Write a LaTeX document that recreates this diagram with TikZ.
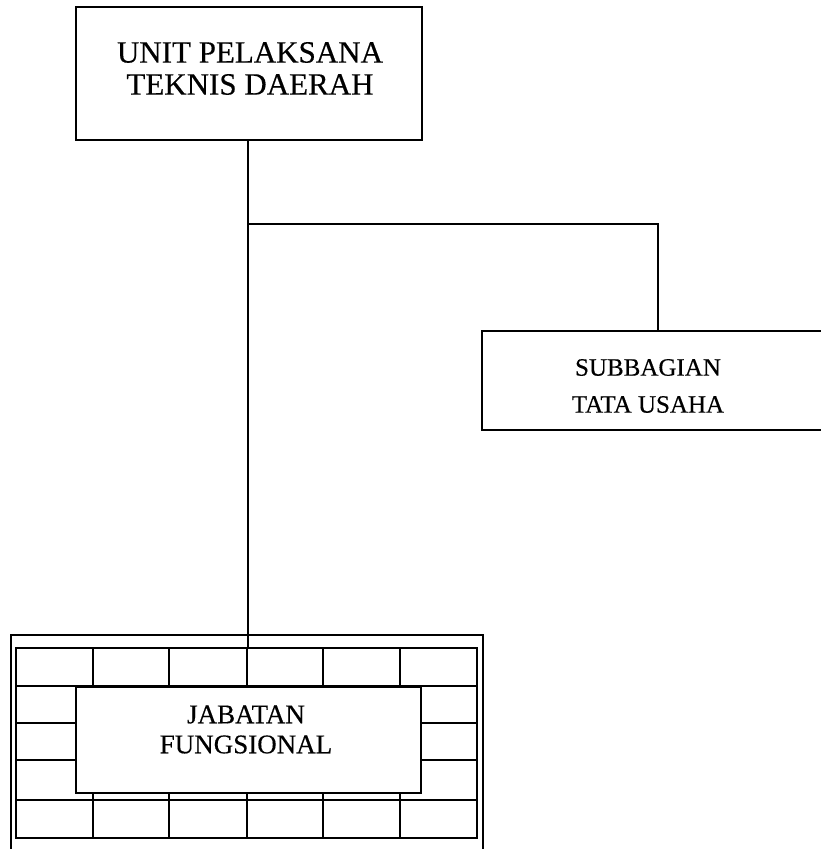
\documentclass[tikz,border=0pt]{standalone}
\usepackage{fontspec}
\setmainfont{Liberation Serif}
\newcommand{\lblfont}[2]{\fontsize{#1}{#2}\selectfont\addfontfeature{FakeBold=0.4}}
\begin{document}
\begin{tikzpicture}[x=1pt,y=-1pt,line width=1.2pt,
  box/.style={draw,line width=1.4pt,inner sep=0pt},
  lbl/.style={align=center,inner sep=0pt},
  conn/.style={line width=1.2pt},
  gridline/.style={line width=1.2pt}]
\useasboundingbox (0,0) rectangle (820,849);
% boxes
\node[box,line width=1.6pt,minimum width=346pt,minimum height=133pt] (upt) at (249,73.5) {};
\node[lbl,font=\lblfont{31}{32}] (upttxt) at (250,68.5) {UNIT PELAKSANA\\TEKNIS DAERAH};
\node[box,line width=1.2pt,minimum width=350pt,minimum height=99pt] (sub) at (657,380.5) {};
\node[lbl,font=\lblfont{25}{37}] (subtxt) at (648,386) {SUBBAGIAN\\TATA USAHA};
% grid frame
\draw[gridline] (11,860) -- (11,635) -- (483,635) -- (483,860);
\node[draw,gridline,inner sep=0pt,minimum width=461pt,minimum height=190pt] (grid) at (246.5,743) {};
\foreach \y in {686,800} \draw[gridline] (16,\y) -- (477,\y);
\foreach \x in {93,169,247,323,400} {
  \draw[gridline] (\x,648) -- (\x,686);
  \draw[gridline] (\x,793) -- (\x,838);
}
\foreach \y in {723,760} {
  \draw[gridline] (16,\y) -- (76,\y);
  \draw[gridline] (421,\y) -- (477,\y);
}
\node[box,line width=1.4pt,fill=white,minimum width=345pt,minimum height=106pt] (jf) at (248.5,740) {};
\node[lbl,font=\lblfont{27}{30}] (jftxt) at (246,729.5) {JABATAN\\FUNGSIONAL};
% connectors
\coordinate (jn) at (248,224);
\draw[conn] (upt.south -| jn) -- (jn) -- (jn |- grid.north);
\draw[conn] (jn) -- (658,224) -- (658,331);
\end{tikzpicture}
\end{document}
